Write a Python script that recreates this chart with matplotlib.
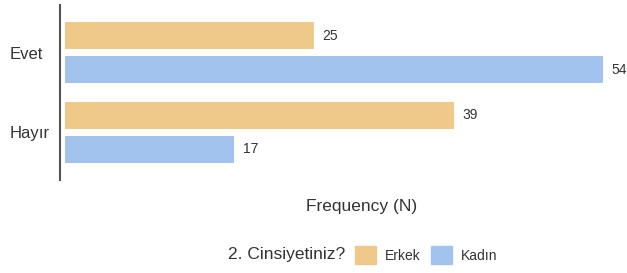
import matplotlib.pyplot as plt
from matplotlib.patches import Patch

plt.rcParams['font.family'] = ['Liberation Sans', 'DejaVu Sans']

categories = ["Evet", "Hayır"]
groups = ["Erkek", "Kadın"]
erkek = [25, 39]
kadin = [54, 17]
colors = ["#EFC98A", "#A3C3EF"]
txt = "#333333"

fig = plt.figure(figsize=(6.27, 2.73), dpi=100)
ax = fig.add_axes([60 / 627, 93 / 273, 563 / 627, 175 / 273])

ypos = range(len(categories))
h = 0.3375
off = 0.2125
b1 = ax.barh([y - off for y in ypos], erkek, height=h, color=colors[0])
b2 = ax.barh([y + off for y in ypos], kadin, height=h, color=colors[1])
ax.bar_label(b1, padding=6, fontsize=10, color=txt)
ax.bar_label(b2, padding=6, fontsize=10, color=txt)

ax.set_xlim(-0.5, 56)
ax.set_ylim(1.594, -0.594)
ax.set_yticks(list(ypos))
ax.set_yticklabels(categories, fontsize=12, color=txt, ha="left")
ax.set_xticks([])
ax.tick_params(axis='y', length=0, pad=36.5)
for s in ["top", "right", "bottom"]:
    ax.spines[s].set_visible(False)
ax.spines["left"].set_color("#555555")
ax.spines["left"].set_linewidth(1.5)

ax.set_xlabel("Frequency (N)", fontsize=12.5, color=txt)
ax.xaxis.set_label_coords((362 - 60) / 563, -0.154)
ax.xaxis.label.set_va("center")

fig.text(228 / 627, 1 - 255 / 273, "2. Cinsiyetiniz?", fontsize=12.5, color=txt, va="center")
handles = [Patch(color=c) for c in colors]
fig.legend(handles, groups, loc="center left", bbox_to_anchor=(355 / 627, 1 - 255 / 273),
           ncol=2, frameon=False, fontsize=10, labelcolor=txt, handlelength=1.51,
           handleheight=1.51, handletextpad=0.65, columnspacing=0.72, borderpad=0,
           borderaxespad=0)

fig.savefig("out.png", dpi=100)
